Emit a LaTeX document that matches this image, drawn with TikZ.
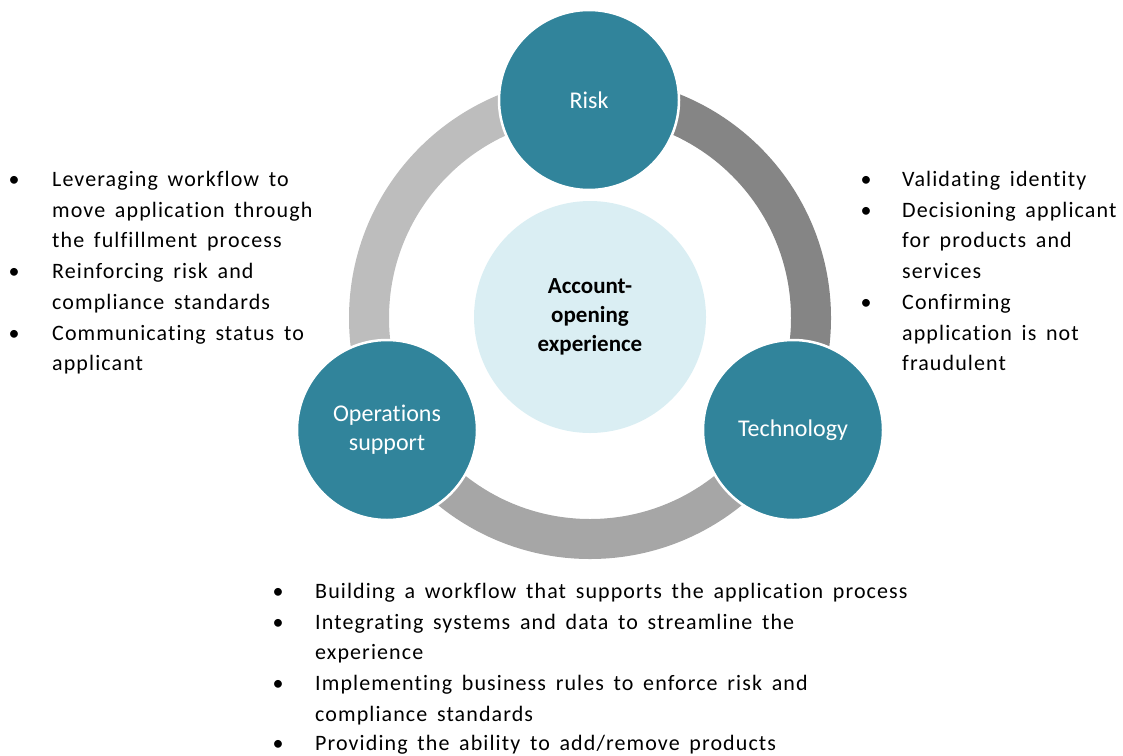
\documentclass[tikz,border=0pt]{standalone}
\usepackage{fontspec}
\setmainfont{Carlito}[RawFeature={-liga;-clig;-calt;-dlig}]
\newfontfamily\bodyfont{Carlito}[LetterSpace=5,WordSpace=1.6,RawFeature={-liga;-clig;-calt;-dlig}]
\definecolor{tealhub}{HTML}{31849B}
\definecolor{palecore}{HTML}{DAEEF3}
\definecolor{ringL}{HTML}{BDBDBD}
\definecolor{ringR}{HTML}{858585}
\definecolor{ringB}{HTML}{A6A6A6}
\begin{document}
\begin{tikzpicture}[x=1pt,y=-1pt,
  bodytext/.style={anchor=base west, inner sep=0pt, font=\bodyfont\fontsize{22}{26}\selectfont},
  bulletmark/.style={anchor=base, inner sep=0pt, font=\fontsize{22}{26}\selectfont},
  hub/.style={circle, fill=tealhub, draw=white, line width=2.5pt, minimum size=180pt, inner sep=0pt, text=white, font=\fontsize{24}{29}\selectfont, align=center},
  core/.style={circle, fill=palecore, minimum size=232pt, inner sep=0pt, font=\bfseries\fontsize{23}{29}\selectfont, align=center}]
\useasboundingbox (0,0) rectangle (1123,755);

% ring segments
\begin{scope}[shift={(590,318)}]
  \begin{scope}
    \clip (0,0) -- (151.1:600) -- (210:600) -- (270:600) -- cycle;
    \fill[ringL, even odd rule] (0,0) circle[radius=241] (0,0) circle[radius=201];
  \end{scope}
  \begin{scope}
    \clip (0,0) -- (270:600) -- (330:600) -- (388.9:600) -- cycle;
    \fill[ringR, even odd rule] (0,0) circle[radius=241] (0,0) circle[radius=201];
  \end{scope}
  \begin{scope}
    \clip (0,0) -- (28.9:600) -- (90:600) -- (151.1:600) -- cycle;
    \fill[ringB, even odd rule] (0,0) circle[radius=241] (0,0) circle[radius=201];
  \end{scope}
\end{scope}

% circles
\node[core] (core) at (590,317) {Account-\\opening\\experience};
\node[hub] (risk) at (589,100) {Risk};
\node[hub] (ops) at (387,430) {Operations\\support};
\node[hub] (tech) at (793,430) {Technology};

% left block
\node[bulletmark] (lb1) at (14,186) {•};
\node[bodytext] (l1a) at (52,186) {Leveraging workflow to};
\node[bodytext] (l1b) at (52,217) {move application through};
\node[bodytext] (l1c) at (52,247) {the fulfillment process};
\node[bulletmark] (lb2) at (14,278) {•};
\node[bodytext] (l2a) at (52,278) {Reinforcing risk and};
\node[bodytext] (l2b) at (52,309) {compliance standards};
\node[bulletmark] (lb3) at (14,340) {•};
\node[bodytext] (l3a) at (52,340) {Communicating status to};
\node[bodytext] (l3b) at (52,370) {applicant};

% right block
\node[bulletmark] (rb1) at (866,186) {•};
\node[bodytext] (r1a) at (902,186) {Validating identity};
\node[bulletmark] (rb2) at (866,217) {•};
\node[bodytext] (r2a) at (902,217) {Decisioning applicant};
\node[bodytext] (r2b) at (902,247) {for products and};
\node[bodytext] (r2c) at (902,278) {services};
\node[bulletmark] (rb3) at (866,309) {•};
\node[bodytext] (r3a) at (902,309) {Confirming};
\node[bodytext] (r3b) at (902,340) {application is not};
\node[bodytext] (r3c) at (902,370) {fraudulent};

% bottom block
\node[bulletmark] (bb1) at (278,598) {•};
\node[bodytext] (b1a) at (315,598) {Building a workflow that supports the application process};
\node[bulletmark] (bb2) at (278,629) {•};
\node[bodytext] (b2a) at (315,629) {Integrating systems and data to streamline the};
\node[bodytext] (b2b) at (315,659) {experience};
\node[bulletmark] (bb3) at (278,690) {•};
\node[bodytext] (b3a) at (315,690) {Implementing business rules to enforce risk and};
\node[bodytext] (b3b) at (315,721) {compliance standards};
\node[bulletmark] (bb4) at (278,750) {•};
\node[bodytext] (b4a) at (315,750) {Providing the ability to add/remove products};
\end{tikzpicture}
\end{document}
